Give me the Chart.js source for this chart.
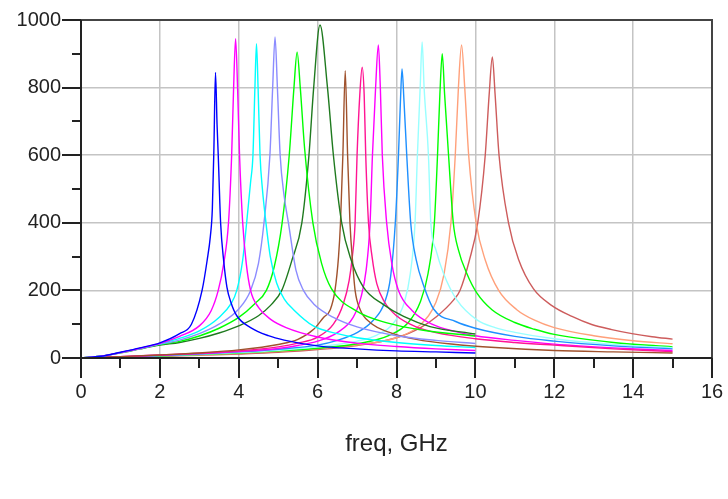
<!DOCTYPE html>
<html>
<head>
<meta charset="utf-8">
<script src="https://cdn.jsdelivr.net/npm/chart.js@4/dist/chart.umd.min.js"></script>
<style>
  html, body { margin: 0; padding: 0; background: #fff; }
  #wrap { width: 728px; height: 499px; position: relative; }
</style>
</head>
<body>
<div id="wrap"><canvas id="resChart"></canvas></div>
<script>
// resonance curves: [freq GHz, value]
const blue = [[0,0],[0.5,5],[1,17],[1.5,30],[2,45],[2.5,72],[2.8,100],[3.07,200],[3.2,290],[3.28,360],[3.33,440],[3.37,620],[3.41,845],[3.45,690],[3.48,600],[3.54,400],[3.62,285],[3.7,210],[3.8,165],[3.95,125],[4.3,90],[4.75,66],[5.15,53],[6,36],[7,27],[8,21],[9,18],[10,15]];
const magenta1 = [[0,0],[0.5,5],[1,16],[1.5,29],[2,43],[2.5,64],[3,95],[3.3,140],[3.48,200],[3.62,280],[3.74,400],[3.82,600],[3.87,800],[3.92,945],[3.97,800],[4.02,600],[4.1,400],[4.19,280],[4.3,200],[4.5,150],[4.8,115],[5.2,90],[6,62],[7,44],[8,34],[9,27],[10,22]];
const cyan = [[0,0],[0.5,5],[1,16],[1.5,28],[2,42],[2.5,58],[3,80],[3.5,120],[3.8,160],[3.95,200],[4.1,290],[4.2,400],[4.3,520],[4.36,600],[4.41,800],[4.45,930],[4.49,800],[4.54,600],[4.6,500],[4.69,400],[4.8,300],[4.96,222],[5.15,175],[5.39,143],[5.89,95],[6.5,72],[7,60],[8,46],[9,37],[10,31]];
const lavender = [[0,0],[0.5,5],[1,16],[1.5,28],[2,41],[2.5,53],[3,72],[3.5,100],[4,145],[4.3,200],[4.5,280],[4.64,400],[4.79,600],[4.86,800],[4.92,950],[4.98,800],[5.05,600],[5.15,480],[5.26,400],[5.45,260],[5.64,200],[5.9,160],[6.4,120],[7,92],[8,66],[9,52],[10,43]];
const green1 = [[0,0],[0.5,5],[1,16],[1.5,28],[2,40],[2.5,49],[3,65],[3.5,88],[4,120],[4.4,160],[4.7,200],[4.9,270],[5.1,400],[5.28,600],[5.4,800],[5.48,905],[5.56,800],[5.67,620],[5.88,400],[6.1,280],[6.35,205],[7,138],[7.76,104],[8.68,82],[10,65]];
const darkGreen = [[0,0],[0.5,5],[1,15],[1.5,27],[2,38],[2.5,46],[3,58],[3.5,74],[4,95],[4.5,125],[4.8,155],[5.09,200],[5.35,290],[5.6,400],[5.78,600],[5.9,800],[6.06,985],[6.25,800],[6.4,600],[6.61,400],[6.85,290],[7.16,210],[7.67,158],[8.18,123],[8.85,93],[10,71]];
const brown = [[0,0],[1,4],[2,9],[3,15],[4,24],[5,40],[5.5,55],[5.9,85],[6.15,120],[6.32,143],[6.44,200],[6.53,300],[6.58,400],[6.64,600],[6.7,850],[6.76,600],[6.82,400],[6.89,280],[6.95,200],[7.08,143],[7.33,105],[7.84,75],[8.5,55],[9.5,40],[10.5,31],[12,22],[13.5,18],[15,15]];
const deepPink = [[0,0],[1,4],[2,9],[3,14],[4,21],[5,33],[5.5,44],[6,62],[6.4,100],[6.65,160],[6.8,230],[6.88,300],[6.95,400],[7,600],[7.07,780],[7.13,860],[7.18,780],[7.22,600],[7.29,400],[7.38,300],[7.5,220],[7.7,165],[8,125],[8.5,92],[9,75],[10,57],[11,46],[12,38],[13.5,27],[15,19]];
const magenta2 = [[0,0],[1,4],[2,8],[3,13],[4,19],[5,28],[5.5,37],[6,50],[6.5,75],[6.9,120],[7.1,180],[7.23,260],[7.33,400],[7.39,600],[7.47,800],[7.54,926],[7.59,800],[7.64,600],[7.75,400],[7.88,280],[8.05,200],[8.4,140],[8.9,100],[9.5,78],[10,66],[11,52],[12,41],[13.5,30],[15,22]];
const dodger = [[0,0],[1,3],[2,7],[3,12],[4,18],[5,26],[6,38],[6.5,52],[7,75],[7.4,110],[7.7,165],[7.85,240],[7.97,400],[8.05,600],[8.1,760],[8.14,855],[8.19,760],[8.26,600],[8.36,400],[8.5,290],[8.7,210],[8.94,145],[9.5,108],[10,88],[11,64],[12,50],[13.5,36],[15,27]];
const lightCyan = [[0,0],[1,3],[2,7],[3,11],[4,16],[5,23],[6,33],[7,50],[7.5,68],[7.9,100],[8.2,165],[8.35,250],[8.47,400],[8.53,600],[8.6,800],[8.65,935],[8.7,800],[8.81,600],[8.87,400],[9,320],[9.19,251],[9.53,172],[10.04,113],[10.5,90],[11,76],[12,57],[13.5,40],[15,30]];
const green2 = [[0,0],[1,3],[2,6],[3,10],[4,15],[5,21],[6,29],[7,42],[7.8,66],[8.3,105],[8.6,165],[8.8,250],[8.96,400],[9.04,600],[9.1,780],[9.16,900],[9.22,780],[9.32,600],[9.44,400],[9.57,320],[9.78,251],[10.04,192],[10.42,143],[11,105],[11.5,85],[12,70],[13.5,46],[15,33]];
const salmon = [[0,0],[1,3],[2,6],[3,9],[4,14],[5,20],[6,28],[7,39],[8,60],[8.6,98],[9,165],[9.2,245],[9.38,400],[9.49,600],[9.57,800],[9.65,926],[9.73,800],[9.83,600],[10.02,400],[10.25,290],[10.59,200],[11.05,143],[11.5,112],[12,90],[13,66],[14,51],[15,42]];
const indianRed = [[0,0],[1,3],[2,5],[3,8],[4,12],[5,17],[6,25],[7,37],[8,60],[8.6,89],[9.02,123],[9.45,172],[9.61,200],[9.85,290],[10.06,400],[10.25,600],[10.35,780],[10.43,891],[10.5,780],[10.6,600],[10.84,400],[11.1,290],[11.47,205],[11.94,155],[12.45,123],[12.95,99],[13.46,84],[13.97,72],[14.48,63],[15,56]];

const curves = [blue, magenta1, cyan, lavender, green1, darkGreen, brown, deepPink, magenta2, dodger, lightCyan, green2, salmon, indianRed];
const colors = ["#0000ff", "#ff00ff", "#00ffff", "#8c8cff", "#00ff00", "#1f7a1f", "#a0522d", "#ff1493", "#ff00ff", "#1e90ff", "#99ffff", "#00ff00", "#ffa07a", "#cd5c5c"];

const xTitle = "freq, GHz";

// frame, axes and major/minor tick marks
const framePlugin = {
  id: "frame",
  afterDraw(chart) {
    const { ctx, chartArea: a, scales } = chart;
    const x = scales.x, y = scales.y;
    ctx.save();
    ctx.strokeStyle = "#444";
    ctx.lineWidth = 2;
    ctx.beginPath();
    ctx.moveTo(a.left, a.top);
    ctx.lineTo(a.right, a.top);
    ctx.lineTo(a.right, a.bottom);
    ctx.stroke();

    ctx.strokeStyle = "#222";
    ctx.beginPath();
    ctx.moveTo(a.left, a.top);
    ctx.lineTo(a.left, a.bottom);
    ctx.lineTo(a.right, a.bottom);
    for (let v = y.min; v <= y.max; v += 100) {
      const py = Math.round(y.getPixelForValue(v));
      const len = v % 200 === 0 ? 19 : 9;
      ctx.moveTo(a.left - len, py);
      ctx.lineTo(a.left, py);
    }
    for (let f = x.min; f <= x.max; f += 1) {
      const px = Math.round(x.getPixelForValue(f));
      const len = f % 2 === 0 ? 20 : 10;
      ctx.moveTo(px, a.bottom);
      ctx.lineTo(px, a.bottom + len);
    }
    ctx.stroke();
    ctx.restore();
  }
};

const ctx = document.getElementById("resChart").getContext("2d");
new Chart(ctx, {
  type: "line",
  data: {
    datasets: curves.map((c, i) => ({
      data: c.map((p) => ({ x: p[0], y: p[1] })),
      borderColor: colors[i],
      borderWidth: 1.4,
      pointRadius: 0,
      cubicInterpolationMode: "monotone",
      fill: false,
    })),
  },
  options: {
    responsive: true,
    maintainAspectRatio: false,
    animation: false,
    layout: { padding: { top: 20, right: 16, left: 0, bottom: 0 } },
    plugins: {
      legend: { display: false },
      tooltip: { enabled: false },
    },
    scales: {
      x: {
        type: "linear",
        min: 0,
        max: 16,
        afterFit: (s) => { s.height = 141; s.paddingLeft = 0; s.paddingRight = 0; },
        grid: { color: "#c4c4c4", lineWidth: 1.5, drawTicks: false },
        border: { display: false },
        ticks: {
          stepSize: 2,
          padding: 22,
          color: "#222",
          font: { family: "'Liberation Sans', Arial", size: 20 },
        },
        title: {
          display: true,
          text: xTitle,
          color: "#222",
          padding: { top: 0, bottom: 40 },
          font: { family: "'Liberation Sans', Arial", size: 24 },
        },
      },
      y: {
        min: 0,
        max: 1000,
        afterFit: (s) => { s.width = 81; s.paddingTop = 0; s.paddingBottom = 0; },
        grid: { color: "#c4c4c4", lineWidth: 1.5, drawTicks: false },
        border: { display: false },
        ticks: {
          stepSize: 200,
          padding: 20,
          color: "#222",
          callback: (v) => String(v),
          font: { family: "'Liberation Sans', Arial", size: 20 },
        },
      },
    },
  },
  plugins: [framePlugin],
});
</script>
</body>
</html>
